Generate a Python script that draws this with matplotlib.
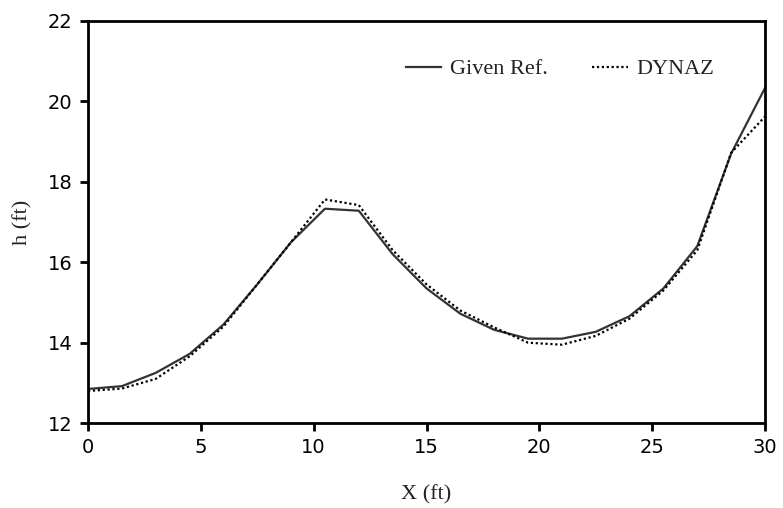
import matplotlib
matplotlib.use("Agg")
import matplotlib.pyplot as plt

# station along channel (ft)
x = [0, 1.5, 3, 4.5, 6, 7.5, 9, 10.5, 12, 13.5, 15, 16.5, 18, 19.5, 21,
     22.5, 24, 25.5, 27, 28.5, 30]

h_ref = [12.85, 12.92, 13.25, 13.72, 14.45, 15.45, 16.5, 17.33, 17.28, 16.2,
         15.35, 14.72, 14.32, 14.1, 14.1, 14.27, 14.66, 15.35, 16.4, 18.7, 20.33]
h_dynaz = [12.8, 12.86, 13.1, 13.66, 14.4, 15.45, 16.5, 17.56, 17.42, 16.3,
           15.45, 14.8, 14.38, 14.0, 13.95, 14.17, 14.6, 15.3, 16.3, 18.72, 19.62]

fig = plt.figure(figsize=(7.83, 5.08), dpi=100)
ax = fig.add_axes([0.1124, 0.167, 0.8646, 0.792])

ax.plot(x, h_ref, color='#333333', lw=1.6, label='Given Ref.')
ax.plot(x, h_dynaz, color='black', lw=1.6, linestyle=(0, (1, 1.2)), label='DYNAZ')

ax.set_xlim(0, 30)
ax.set_ylim(12, 22)
ax.set_xticks([0, 5, 10, 15, 20, 25, 30])
ax.set_yticks([12, 14, 16, 18, 20, 22])

for s in ax.spines.values():
    s.set_linewidth(2)
ax.tick_params(direction='out', length=6, width=2, labelsize=14, pad=5)
for lab in ax.get_xticklabels() + ax.get_yticklabels():
    lab.set_family('DejaVu Sans')

ax.set_xlabel('X (ft)', family='Liberation Serif', fontsize=16, color='#222222', labelpad=20)
ax.set_ylabel('h (ft)', family='Liberation Serif', fontsize=16, color='#222222', labelpad=11)

leg = ax.legend(loc='upper right', bbox_to_anchor=(0.955, 0.955), ncol=2, frameon=False,
                handlelength=1.6, handletextpad=0.4, columnspacing=2.0,
                prop={'family': 'Liberation Serif', 'size': 16})
for t in leg.get_texts():
    t.set_color('#222222')

plt.savefig("out.png", dpi=100)
